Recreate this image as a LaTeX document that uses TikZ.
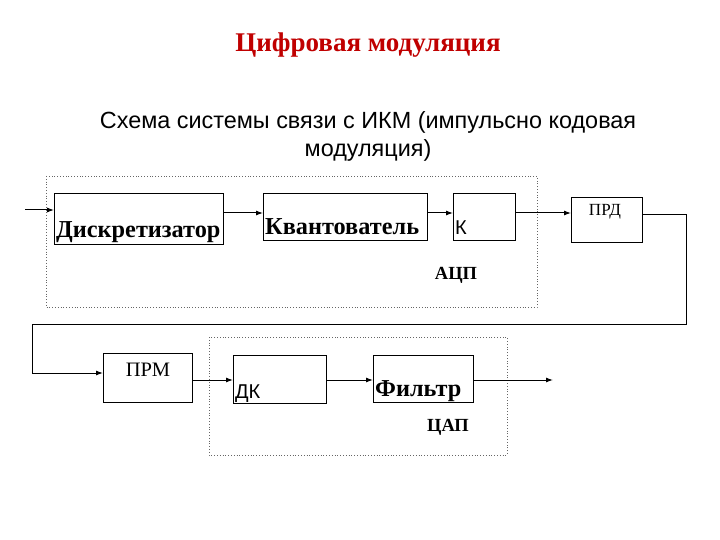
\documentclass[tikz,border=0pt]{standalone}
\usepackage{fontspec}
\setmainfont{Liberation Serif}
\newfontfamily\arialf{Liberation Sans}
\usetikzlibrary{arrows.meta}
\definecolor{titlered}{HTML}{C00000}
\begin{document}
\begin{tikzpicture}[x=1pt,y=-1pt,
  blk/.style={draw,line width=1pt,inner sep=0pt,anchor=north west},
  grp/.style={draw,dotted,line width=0.8pt,gray!80!black},
  arr/.style={line width=1pt,-{Latex[length=7pt,width=5pt]}},
  bigb/.style={font=\fontsize{24.3}{24.3}\selectfont\bfseries,inner sep=0pt,anchor=base west},
  lbl/.style={font=\fontsize{18.5}{18.5}\selectfont\bfseries,inner sep=0pt},
  sml/.style={font=\fontsize{17}{17}\selectfont,inner sep=0pt},
  sansk/.style={font=\arialf\fontsize{20}{20}\selectfont,inner sep=0pt,anchor=base west}]
\useasboundingbox (0,0) rectangle (720,540);
\fill[white] (0,0) rectangle (720,540);
% titles
\node[font=\fontsize{27}{27}\selectfont\bfseries,text=titlered,inner sep=0pt,anchor=base] (title) at (368,52) {Цифровая модуляция};
\node[font=\arialf\fontsize{23.4}{23.4}\selectfont,inner sep=0pt,anchor=base] (sub1) at (368,129) {Схема системы связи с ИКМ (импульсно кодовая};
\node[font=\arialf\fontsize{23.4}{23.4}\selectfont,inner sep=0pt,anchor=base] (sub2) at (368,157) {модуляция)};
% groups
\draw[grp] (46,176) rectangle (537,307);
\draw[grp] (209,337) rectangle (507,455);
% blocks
\node[blk,minimum width=169pt,minimum height=51pt] (disk) at (54,193) {};
\node[bigb] (diskt) at (56,237) {Дискретизатор};
\node[blk,minimum width=164pt,minimum height=47pt] (kvant) at (263,193) {};
\node[bigb] (kvantt) at (265,235) {Квантователь};
\node[blk,minimum width=62pt,minimum height=47pt] (kbox) at (453,193) {};
\node[sansk] (kt) at (455,234) {К};
\node[blk,minimum width=71pt,minimum height=45pt] (prd) at (571,197) {};
\node[sml] (prdt) at (605,212) {ПРД};
\node[lbl] (adc) at (456,275) {АЦП};
\node[blk,minimum width=89pt,minimum height=49pt] (prm) at (103,353) {};
\node[font=\fontsize{20.5}{20.5}\selectfont,inner sep=0pt] (prmt) at (148,370) {ПРМ};
\node[blk,minimum width=93pt,minimum height=48pt] (dk) at (233,355) {};
\node[sansk] (dkt) at (235,398) {ДК};
\node[blk,minimum width=100pt,minimum height=47pt] (filt) at (373,355) {};
\node[bigb] (filtt) at (375,396) {Фильтр};
\node[lbl] (dac) at (448,427) {ЦАП};
% connectors
\coordinate (in) at (25,210);
\coordinate (out) at (553,380);
\draw[arr] (in) -- (in -| disk.west);
\draw[arr] (disk.east |- 0,213) -- (kvant.west |- 0,213);
\draw[arr] (kvant.east |- 0,213) -- (kbox.west |- 0,213);
\draw[arr] (kbox.east |- 0,213) -- (prd.west |- 0,213);
\draw[arr] (prd.east |- 0,215) -- (686,215) -- (686,324) -- (32,324) -- (32,373) -- (prm.west |- 0,373);
\draw[arr] (prm.east |- 0,380) -- (dk.west |- 0,380);
\draw[arr] (dk.east |- 0,380) -- (filt.west |- 0,380);
\draw[arr] (filt.east |- 0,380) -- (out);
\end{tikzpicture}
\end{document}
